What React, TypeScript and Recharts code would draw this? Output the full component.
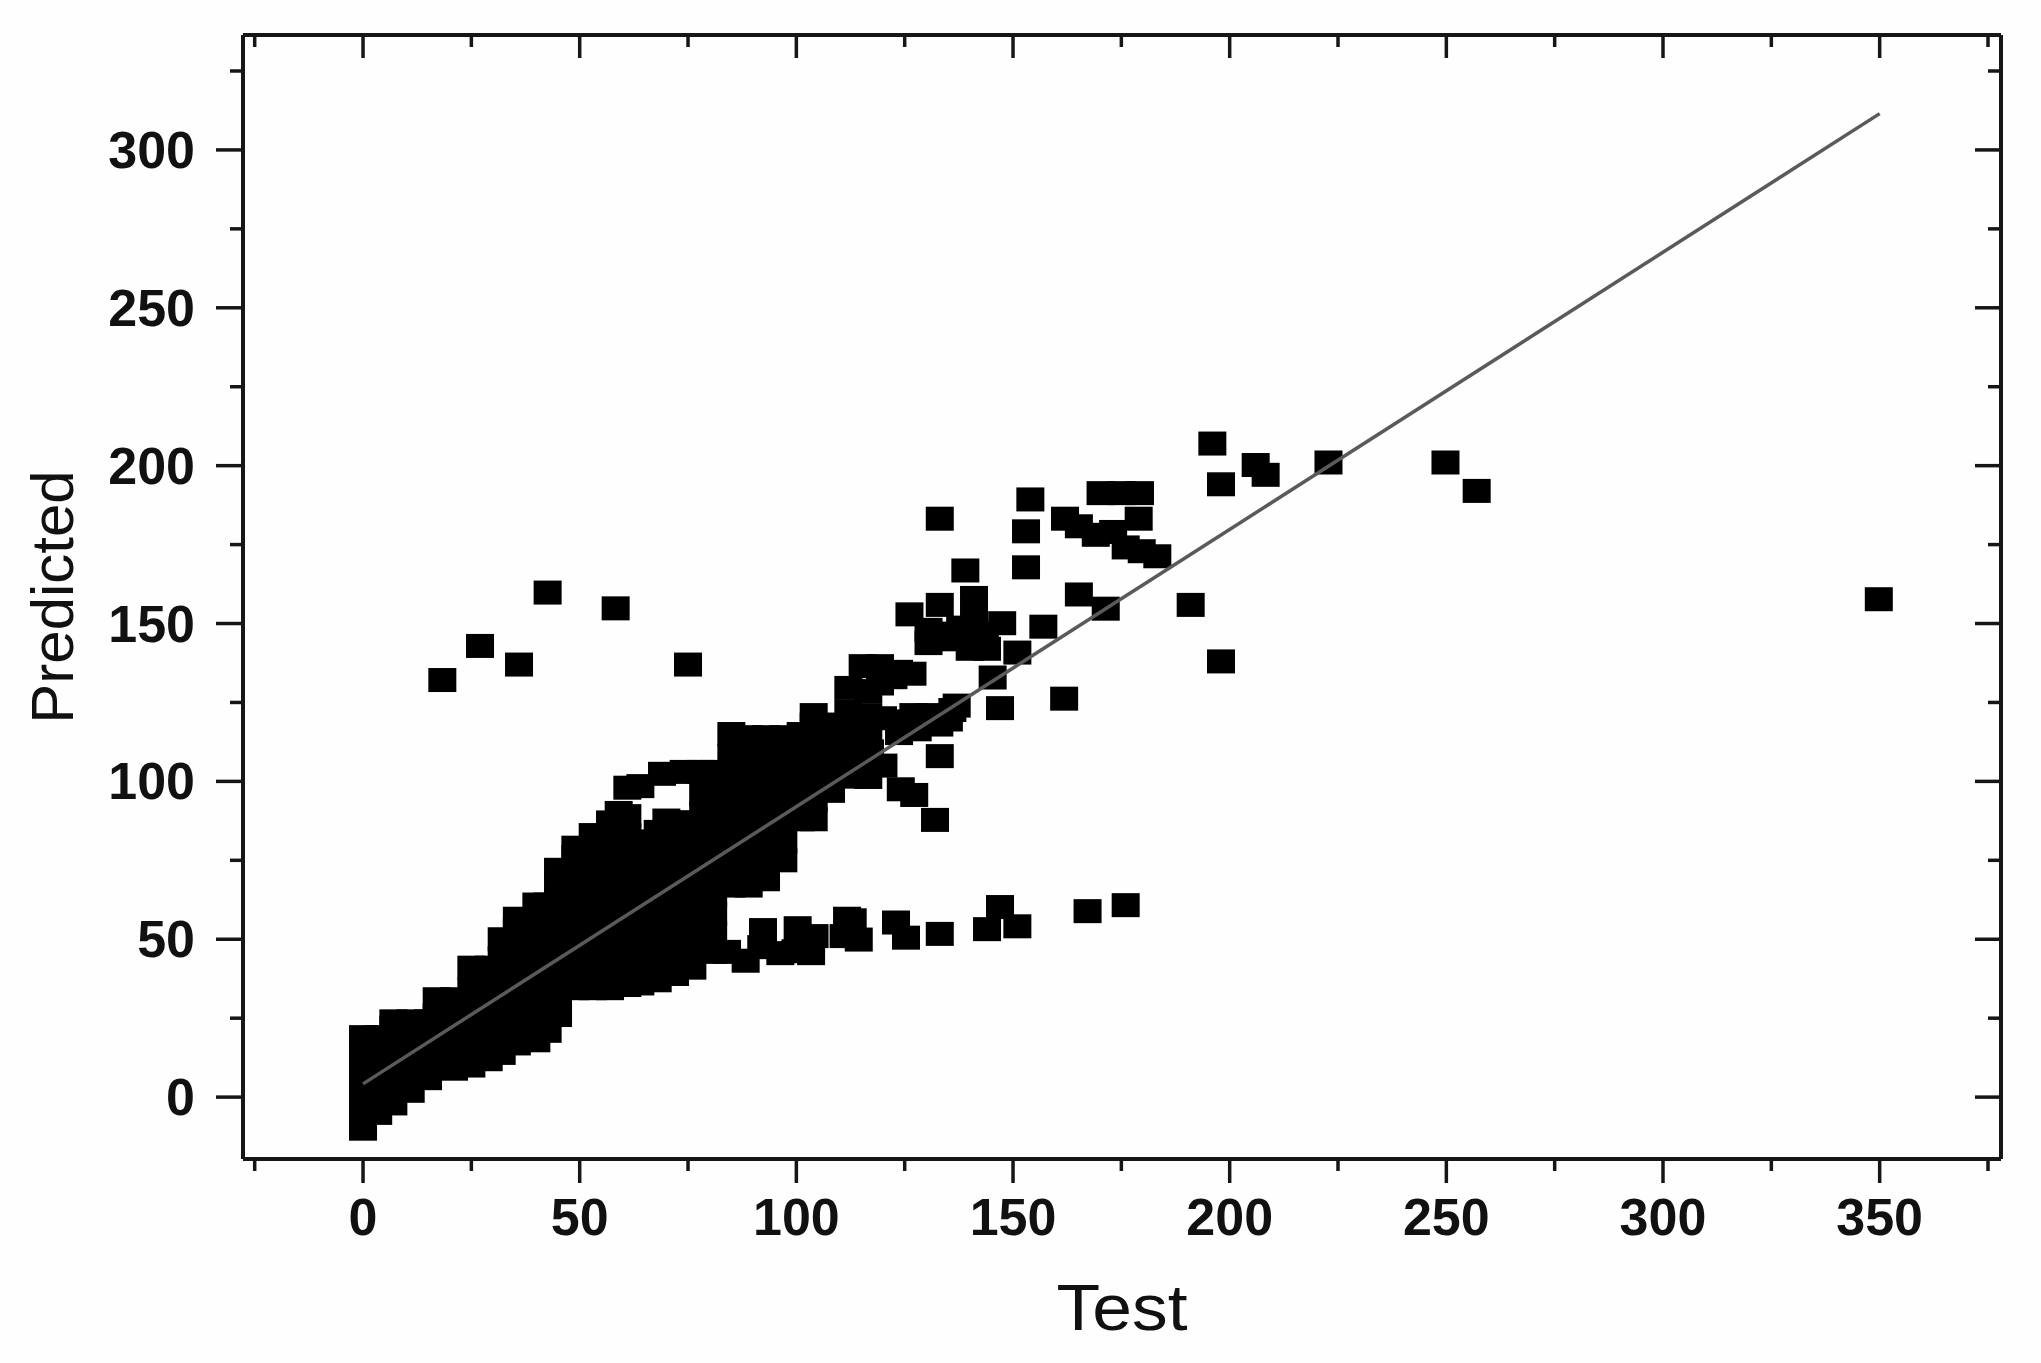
import React from "react";
import { ScatterChart, Scatter, XAxis, YAxis } from "recharts";

// [Test, Predicted] pairs
const denseCluster: [number, number][] = [
  [0, -10], [0, -4], [0, 2], [0, 8], [0, 14], [0, 19],
  [3.5, -5], [3.5, 1], [3.5, 7], [3.5, 13], [3.5, 19],
  [7, -2], [7, 4], [7, 10], [7, 16], [7, 22], [7, 24],
  [11, 2], [11, 8], [11, 14], [11, 20], [11, 24],
  [15, 6], [15, 12], [15, 18], [15, 24],
  [17, 26], [17, 31],
  [21, 9], [21, 15], [21, 21], [21, 27], [21, 31],
  [25, 10], [25, 16], [25, 22], [25, 28], [25, 34], [25, 41],
  [29, 12], [29, 18], [29, 24], [29, 30], [29, 36], [29, 41],
  [32, 14], [32, 20], [32, 26], [32, 32], [32, 38], [32, 44], [32, 50],
  [35.5, 17], [35.5, 23], [35.5, 29], [35.5, 35], [35.5, 41], [35.5, 47], [35.5, 53], [35.5, 56.5],
  [40, 18], [40, 24], [40, 30], [40, 36], [40, 42], [40, 48], [40, 54], [40, 61],
  [42.6, 21], [42.6, 27], [42.6, 33], [42.6, 39], [42.6, 45], [42.6, 51], [42.6, 57], [42.6, 61],
  [45, 26], [45, 32], [45, 38], [45, 44], [45, 50], [45, 56], [45, 62], [45, 68], [45, 72],
  [49, 34.5], [49, 40], [49, 46], [49, 52], [49, 58], [49, 64], [49, 70], [49, 76], [49, 79],
  [53, 34.5], [53, 40], [53, 46], [53, 52], [53, 58], [53, 64], [53, 70], [53, 76], [53, 83],
  [57, 34.5], [57, 40], [57, 46], [57, 52], [57, 58], [57, 64], [57, 70], [57, 76], [57, 82], [57, 87],
  [59, 90],
  [61, 35.5], [61, 41], [61, 47], [61, 53], [61, 59], [61, 65], [61, 71], [61, 77], [61, 83], [61, 89], [61, 98],
  [64, 36], [64, 42], [64, 48], [64, 54], [64, 60], [64, 66], [64, 72], [64, 78], [64, 81], [64, 98.5],
  [68, 37], [68, 43], [68, 49], [68, 55], [68, 61], [68, 67], [68, 73], [68, 79], [68, 84],
  [69, 102.4], [70, 87.6], [74, 103], [78, 103],
  [72, 39], [72, 45], [72, 51], [72, 57], [72, 63], [72, 69], [72, 75], [72, 81], [72, 87],
  [76, 41], [76, 47], [76, 53], [76, 59], [76, 65], [76, 71], [76, 77], [76, 83], [76, 87],
  [78.5, 90], [78.5, 96],
  [80.8, 46], [80.8, 52], [80.8, 58], [80.8, 64], [80.8, 70], [80.8, 76], [80.8, 82], [80.8, 88], [80.8, 94], [80.8, 100], [80.8, 103],
  [85, 67], [85, 72], [85, 78], [85, 84], [85, 90], [85, 96], [85, 102], [85, 108], [85, 115],
  [89, 67], [89, 73], [89, 79], [89, 85], [89, 91], [89, 97], [89, 103], [89, 109], [89, 114],
  [93, 69], [93, 75], [93, 81], [93, 87], [93, 93], [93, 99], [93, 105], [93, 111], [93, 114],
  [97, 75], [97, 81], [97, 88], [97, 94], [97, 100], [97, 106], [97, 112], [97, 114],
  [101, 88], [101, 94], [101, 100], [101, 106], [101, 112], [101, 115],
  [104, 88], [104, 94], [104, 100], [104, 106], [104, 112], [104, 118], [104, 121],
  [108, 97], [108, 104], [108, 111], [108, 118],
  [112, 101.5], [112, 108], [112, 115], [112, 122], [112, 129.6],
];

const upperArm: [number, number][] = [
  [115.3, 136.5], [119.3, 136.5], [122.4, 133], [123.7, 134.7], [126.8, 134.1], [116.6, 128.6], [119.3, 131],
  [116.6, 121], [116.6, 113.5], [117, 109.5], [115.7, 105.6], [120.1, 105], [116.6, 101.4], [120, 120], [123.7, 115.3],
  [125.4, 119], [127, 121], [128, 116.5], [130.7, 119.6], [130.7, 121], [133, 118], [135.2, 119.6], [136, 122.6], [137, 124],
  [124.1, 97.5], [127.2, 95.7],
  [133.1, 108], [132, 87.8], [147, 123.2], [145.3, 132.9], [151, 140.8], [157, 149], [161.8, 126.2],
  [126.1, 152.9], [133.1, 155.9], [141, 158.1], [147.5, 150.1], [141, 151.6], [130.5, 143.8], [133.4, 146.8],
  [140, 142], [144, 142], [143.5, 146.8], [130.5, 148], [137.8, 148.7], [136, 145],
  [133.1, 183.2], [139, 166.8], [154, 189.3], [153, 179.2], [153, 167.8],
  [165.2, 159.2], [171.4, 154.7], [170.2, 191.3], [175, 191.3], [179.3, 191.3], [179, 183.2],
  [162, 183.2], [165.2, 180.8], [169.1, 178.1], [173.1, 179], [176, 174.1], [179.7, 172.9], [183.3, 171.3],
  [191, 155.9], [198, 138], [196, 207], [198, 194.1], [206, 200.2], [208.3, 197.1],
];

const lowerBand: [number, number][] = [
  [84, 46], [88.3, 43.2], [92.3, 52.9], [91.9, 47.5], [96.3, 45.6], [100.3, 53.5], [99.8, 46.2], [103.4, 45.6],
  [104.2, 51], [111.7, 56.5], [113, 56], [110.9, 51], [114.4, 49.9], [123, 55.3], [125.3, 50.5],
  [133.1, 51.7], [144, 53.2], [147, 60.2], [151, 54.1], [167.2, 58.9], [176, 60.8],
];

const outliers: [number, number][] = [
  [18.3, 132.1], [27, 142.9], [36, 137], [42.6, 159.8], [58.3, 154.8], [75, 137],
  [222.8, 201], [249.8, 201], [257, 192], [349.8, 157.7],
];

const fitLine: [number, number][] = [[0, 4.2], [350, 311.5]];

const xTicks = [-25, 0, 25, 50, 75, 100, 125, 150, 175, 200, 225, 250, 275, 300, 325, 350, 375];
const yTicks = [0, 25, 50, 75, 100, 125, 150, 175, 200, 225, 250, 275, 300, 325];

const toRows = (pairs: [number, number][]) => pairs.map(([x, y]) => ({ x, y }));
const points = toRows([...denseCluster, ...upperArm, ...lowerBand, ...outliers]);

const INK = "#161616";
const labelStyle = { fontFamily: "'Liberation Sans', Arial, sans-serif", fill: "#111" };

const isMajor = (v: number) => v % 50 === 0;

function SquareMarker(props: any) {
  return <rect x={props.cx - 14} y={props.cy - 12} width={28} height={24} fill="#000" />;
}

function BottomTick({ x, y, payload }: any) {
  const len = isMajor(payload.value) ? 24 : 12;
  return (
    <g>
      <line x1={x} x2={x} y1={y} y2={y + len} stroke={INK} strokeWidth={3.5} />
      {isMajor(payload.value) && (
        <text x={x} y={y + 76} textAnchor="middle" fontSize={52} fontWeight="bold" {...labelStyle}>
          {payload.value}
        </text>
      )}
    </g>
  );
}

function TopTick({ x, y, payload }: any) {
  const len = isMajor(payload.value) ? 23 : 12;
  return <line x1={x} x2={x} y1={y} y2={y + len} stroke={INK} strokeWidth={3.5} />;
}

function LeftTick({ x, y, payload }: any) {
  const len = isMajor(payload.value) ? 27 : 13;
  return (
    <g>
      <line x1={x} x2={x - len} y1={y} y2={y} stroke={INK} strokeWidth={3.5} />
      {isMajor(payload.value) && (
        <text x={x - 48} y={y + 18} textAnchor="end" fontSize={52} fontWeight="bold" {...labelStyle}>
          {payload.value}
        </text>
      )}
    </g>
  );
}

function RightTick({ x, y, payload }: any) {
  const len = isMajor(payload.value) ? 26 : 13;
  return <line x1={x} x2={x - len} y1={y} y2={y} stroke={INK} strokeWidth={3.5} />;
}

function TestTitle({ viewBox }: any) {
  return (
    <text
      x={viewBox.x + viewBox.width / 2}
      y={viewBox.y + 171}
      textAnchor="middle"
      fontSize={64}
      textLength={131}
      lengthAdjust="spacingAndGlyphs"
      {...labelStyle}
    >
      Test
    </text>
  );
}

const axisLine = { stroke: INK, strokeWidth: 4 };
const xDomain = [-27.7, 378];
const yDomain = [-19.6, 336.4];

export default function App() {
  return (
    <div style={{ position: "absolute", left: 0, top: 0, background: "#fefefe" }}>
      <ScatterChart width={2041} height={1363} margin={{ top: 34, right: 39, bottom: 0, left: 0 }}>
        <XAxis
          type="number"
          dataKey="x"
          domain={xDomain}
          ticks={xTicks}
          interval={0}
          height={204}
          tickLine={false}
          tickSize={0}
          tickMargin={0}
          axisLine={axisLine}
          tick={BottomTick}
          label={{ content: TestTitle }}
        />
        <XAxis
          xAxisId="top"
          orientation="top"
          type="number"
          dataKey="x"
          domain={xDomain}
          ticks={xTicks}
          interval={0}
          height={1}
          tickLine={false}
          tickSize={0}
          tickMargin={0}
          axisLine={axisLine}
          tick={TopTick}
        />
        <YAxis
          type="number"
          dataKey="y"
          domain={yDomain}
          ticks={yTicks}
          interval={0}
          width={243}
          tickLine={false}
          tickSize={0}
          tickMargin={0}
          axisLine={axisLine}
          tick={LeftTick}
          label={{
            value: "Predicted",
            angle: -90,
            position: "insideLeft",
            offset: 52,
            fontSize: 60,
            textAnchor: "middle",
            ...labelStyle,
          }}
        />
        <YAxis
          yAxisId="right"
          orientation="right"
          type="number"
          dataKey="y"
          domain={yDomain}
          ticks={yTicks}
          interval={0}
          width={1}
          tickLine={false}
          tickSize={0}
          tickMargin={0}
          axisLine={axisLine}
          tick={RightTick}
        />
        <Scatter data={points} shape={SquareMarker} isAnimationActive={false} />
        <Scatter
          data={toRows(fitLine)}
          line={{ stroke: "#5a5a5a", strokeWidth: 3.5 }}
          shape={() => <g />}
          isAnimationActive={false}
        />
        {/* frame axes need a series of their own to be drawn */}
        <Scatter
          xAxisId="top"
          yAxisId="right"
          data={toRows(fitLine)}
          shape={() => <g />}
          isAnimationActive={false}
        />
      </ScatterChart>
    </div>
  );
}
